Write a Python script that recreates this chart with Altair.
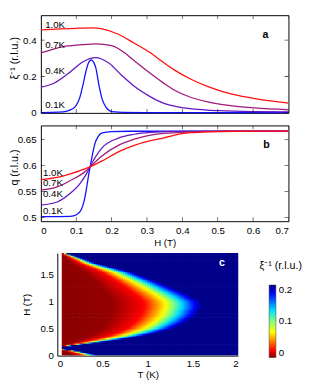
import altair as alt
import numpy as np
import pandas as pd

FONT = "Liberation Sans"

# ---------------- panel a : inverse correlation length vs H ----------------
TEMPS = ["0.1K", "0.4K", "0.7K", "1.0K"]
COLORS = ["#1010ff", "#6216c4", "#a01a78", "#ff1010"]

A_H_01 = [0, 0.05, 0.074, 0.085, 0.096, 0.103, 0.11, 0.119, 0.128, 0.136, 0.1435, 0.15, 0.155,
          0.164, 0.173, 0.18, 0.187, 0.195, 0.209, 0.23, 0.3, 0.5, 0.7]
A_V_01 = [0.002, 0.004, 0.01, 0.018, 0.032, 0.052, 0.084, 0.154, 0.233, 0.28, 0.291, 0.275, 0.25,
          0.154, 0.077, 0.045, 0.024, 0.011, 0.005, 0.003, 0.002, 0.001, 0.001]
A_H_04 = [0, 0.037, 0.083, 0.119, 0.155, 0.192, 0.228, 0.264, 0.31, 0.33, 0.35, 0.38, 0.423,
          0.47, 0.52, 0.6, 0.7]
A_V_04 = [0.142, 0.163, 0.225, 0.281, 0.304, 0.274, 0.207, 0.146, 0.088, 0.067, 0.051, 0.036, 0.023,
          0.015, 0.011, 0.007, 0.005]
A_H_07 = [0, 0.046, 0.065, 0.083, 0.12, 0.155, 0.2, 0.237, 0.264, 0.31, 0.346, 0.378, 0.423,
          0.469, 0.514, 0.605, 0.7]
A_V_07 = [0.33, 0.356, 0.366, 0.369, 0.375, 0.379, 0.37, 0.33, 0.286, 0.216, 0.165, 0.124, 0.086,
          0.062, 0.046, 0.027, 0.017]
A_H_10 = [0, 0.1, 0.146, 0.1735, 0.219, 0.264, 0.31, 0.332, 0.378, 0.423, 0.469, 0.514, 0.56,
          0.605, 0.65, 0.7]
A_V_10 = [0.456, 0.465, 0.467, 0.4615, 0.432, 0.383, 0.33, 0.298, 0.235, 0.186, 0.147, 0.117,
          0.095, 0.079, 0.066, 0.054]

# ---------------- panel b : ordering wave vector vs H ----------------
B_H_01 = [0, 0.083, 0.1008, 0.1144, 0.1235, 0.13, 0.1353, 0.14, 0.146, 0.153, 0.1617, 0.1735,
          0.2, 0.25, 0.7]
B_V_01 = [0.5013, 0.502, 0.505, 0.515, 0.535, 0.56, 0.583, 0.6, 0.622, 0.643, 0.656, 0.663,
          0.6655, 0.6663, 0.6667]
B_H_04 = [0, 0.046, 0.083, 0.11, 0.128, 0.146, 0.1735, 0.219, 0.264, 0.31, 0.4, 0.7]
B_V_04 = [0.5235, 0.5296, 0.5463, 0.5648, 0.583, 0.607, 0.6346, 0.653, 0.6605, 0.664, 0.6662, 0.6667]
B_H_07 = [0, 0.046, 0.083, 0.128, 0.14, 0.1735, 0.219, 0.264, 0.31, 0.346, 0.42, 0.5, 0.7]
B_V_07 = [0.5525, 0.5587, 0.571, 0.59, 0.598, 0.619, 0.639, 0.651, 0.659, 0.662, 0.665, 0.6662, 0.6667]
B_H_10 = [0, 0.046, 0.083, 0.14, 0.1735, 0.219, 0.264, 0.31, 0.346, 0.378, 0.423, 0.469, 0.55, 0.7]
B_V_10 = [0.5728, 0.577, 0.584, 0.598, 0.609, 0.6265, 0.639, 0.648, 0.653, 0.659, 0.6635, 0.665,
          0.6663, 0.6667]

# curve labels (H position, value)
A_LABEL_H = [0.012, 0.012, 0.012, 0.012]
A_LABEL_V = [0.045, 0.23, 0.371, 0.48]
B_LABEL_H = [0.006, 0.006, 0.006, 0.006]
B_LABEL_V = [0.5111, 0.5444, 0.5654, 0.586]

H_TICKS = [0, 0.1, 0.2, 0.3, 0.4, 0.5, 0.6, 0.7]
A_YTICKS = [0, 0.2, 0.4]
B_YTICKS = [0.5, 0.55, 0.6, 0.65]
A_YDOM = [0, 0.537]
B_YDOM = [0.4925, 0.6775]
H_DOM = [0, 0.7]

# ---------------- panel c : colour map of inverse correlation length ----------------
# outer edge (T where xi^-1 reaches ~0.2) of the coloured region, read per field H
C_EDGE_H = [0.0, 0.05, 0.09, 0.12, 0.14, 0.17, 0.20, 0.23, 0.29, 0.35, 0.42, 0.50, 0.62, 0.75,
            0.90, 1.00, 1.13, 1.34, 1.55, 1.70, 1.80, 1.92]
C_EDGE_T = [0.47, 0.33, 0.20, 0.06, 0.00, 0.07, 0.22, 0.38, 0.65, 0.90, 1.10, 1.28, 1.43, 1.54,
            1.60, 1.59, 1.45, 1.16, 0.82, 0.45, 0.28, 0.05]
# colour profile across the edge (fraction of edge temperature -> xi^-1)
C_PROF_FRAC = [0.0, 0.38, 0.6, 0.75, 0.86, 0.95, 1.0]
C_PROF_VAL = [0.0, 0.002, 0.02, 0.07, 0.13, 0.177, 0.2]
C_T_START, C_T_STOP, C_T_STEP = 0.05, 2.0, 0.025
C_H_STOP, C_H_STEP = 1.9, 0.025
C_XTICKS = [0, 0.5, 1, 1.5, 2]
C_YTICKS = [0, 0.5, 1, 1.5]
C_LEGEND_TICKS = [0, 0.1, 0.2]

JET_DOMAIN = [0, 0.02, 0.07, 0.1, 0.13, 0.177, 0.2]
JET_RANGE = ["#880000", "#ff0000", "#ffff00", "#80ff80", "#00e0ff", "#0000ff", "#00008a"]


def curves(hs, vs):
    rows = []
    for t, h_list, v_list in zip(TEMPS, hs, vs):
        for h, v in zip(h_list, v_list):
            rows.append({"T": t, "H": h, "v": v})
    return pd.DataFrame(rows)


df_a = curves([A_H_01, A_H_04, A_H_07, A_H_10], [A_V_01, A_V_04, A_V_07, A_V_10])
df_b = curves([B_H_01, B_H_04, B_H_07, B_H_10], [B_V_01, B_V_04, B_V_07, B_V_10])
lab_a = pd.DataFrame({"T": TEMPS, "H": A_LABEL_H, "v": A_LABEL_V})
lab_b = pd.DataFrame({"T": TEMPS, "H": B_LABEL_H, "v": B_LABEL_V})

color_scale = alt.Scale(domain=TEMPS, range=COLORS)

AXIS_STYLE = dict(domain=False, ticks=False, grid=False,
                  labelFont=FONT, labelFontSize=10, labelColor="#000",
                  titleFont=FONT, titleFontSize=10, titleFontWeight="normal", titleColor="#000")


def line_panel(df, lab, ydom, yticks, ytitle, xlabels, letter_pos, letter, height, title_y):
    xs = alt.Scale(domain=H_DOM, nice=False)
    ys = alt.Scale(domain=ydom, nice=False, zero=False)
    if xlabels:
        xaxis = alt.Axis(values=H_TICKS, format="~g", labelPadding=5, title="H (T)",
                         titleY=17, titleBaseline="top", **AXIS_STYLE)
    else:
        xaxis = None
    ystyle = dict(AXIS_STYLE)
    ystyle["titleFontSize"] = 11
    yaxis = alt.Axis(values=yticks, format="~g", labelPadding=5, title=ytitle, titleX=-22,
                     titleY=title_y, titleAngle=270, titleBaseline="bottom", titleAlign="center",
                     **ystyle)
    # every layer gets the identical axis so that they merge into one
    X = alt.X("H:Q", scale=xs, axis=xaxis)
    Y = alt.Y("v:Q", scale=ys, axis=yaxis)
    lines = alt.Chart(df).mark_line(strokeWidth=1.3, interpolate="monotone").encode(
        x=X, y=Y,
        color=alt.Color("T:N", scale=color_scale, legend=None),
        order=alt.Order("T:N"),
    )
    texts = alt.Chart(lab).mark_text(align="left", baseline="middle", font=FONT,
                                     fontSize=10, color="#000").encode(x=X, y=Y, text="T:N")
    let = alt.Chart(pd.DataFrame({"H": [letter_pos[0]], "v": [letter_pos[1]], "s": [letter]})).mark_text(
        align="center", baseline="middle", font=FONT, fontSize=11, fontWeight="bold", color="#000"
    ).encode(x=X, y=Y, text="s:N")
    # inward ticks on all four sides (the outer half of each tick is clipped away)
    xt = pd.DataFrame({"H": H_TICKS * 2,
                       "v": [ydom[0]] * len(H_TICKS) + [ydom[1]] * len(H_TICKS)})
    yt = pd.DataFrame({"v": list(yticks) * 2,
                       "H": [H_DOM[0]] * len(yticks) + [H_DOM[1]] * len(yticks)})
    x_ticks = alt.Chart(xt).mark_tick(orient="vertical", size=8, thickness=0.8, color="#000",
                                      clip=True).encode(x=X, y=Y)
    y_ticks = alt.Chart(yt).mark_tick(orient="horizontal", size=8, thickness=0.8, color="#000",
                                      clip=True).encode(x=X, y=Y)
    return alt.layer(lines, x_ticks, y_ticks, texts, let).properties(
        width=256, height=height, view=alt.ViewBackground(stroke="#000", strokeWidth=1))


panel_a = line_panel(df_a, lab_a, A_YDOM, A_YTICKS, "ξ⁻¹ (r.l.u.)", False,
                     (0.635, 0.426), "a", 101, 44)
panel_b = line_panel(df_b, lab_b, B_YDOM, B_YTICKS, "q (r.l.u.)", True,
                     (0.638, 0.639), "b", 99, 43)

# heat-map cells (each cell overlaps its right/upper neighbour a little to hide seams)
t_edges = np.arange(C_T_START, C_T_STOP + 1e-9, C_T_STEP)
h_edges = np.arange(0.0, C_H_STOP + 1e-9, C_H_STEP)
rows = []
for h0, h1 in zip(h_edges[:-1], h_edges[1:]):
    hc = 0.5 * (h0 + h1)
    te = float(np.interp(hc, C_EDGE_H, C_EDGE_T))
    for t0, t1 in zip(t_edges[:-1], t_edges[1:]):
        tc = 0.5 * (t0 + t1)
        frac = tc / te if te > 0 else 10.0
        v = float(np.interp(frac, C_PROF_FRAC, C_PROF_VAL))
        rows.append({"T0": round(t0, 4), "T1": round(t1 + 0.5 * C_T_STEP, 4),
                     "H0": round(h0, 4), "H1": round(h1 + 0.5 * C_H_STEP, 4), "v": round(v, 4)})
df_c = pd.DataFrame(rows)

cx = alt.Scale(domain=[0, 2], nice=False)
cy = alt.Scale(domain=[0, 1.9], nice=False)

C_AXIS = dict(AXIS_STYLE)
C_AXIS.update(domain=True, domainColor="#000", domainWidth=1)
CX_AXIS = alt.Axis(values=C_XTICKS, format="~g", title="T (K)", labelPadding=3,
                   titleY=15, titleBaseline="top", **C_AXIS)
CY_AXIS = alt.Axis(values=C_YTICKS, format="~g", title="H (T)", labelPadding=4,
                   titleX=-27, titleAngle=270, titleBaseline="bottom",
                   titleAlign="center", titleY=53, **C_AXIS)

heat = alt.Chart(df_c).mark_rect(strokeWidth=0, clip=True).encode(
    x=alt.X("T0:Q", scale=cx, axis=CX_AXIS),
    x2="T1:Q",
    y=alt.Y("H0:Q", scale=cy, axis=CY_AXIS),
    y2="H1:Q",
    color=alt.Color("v:Q", scale=alt.Scale(domain=JET_DOMAIN, range=JET_RANGE, interpolate="rgb"),
                    legend=alt.Legend(orient="none", legendX=226, legendY=7, direction="vertical",
                                      gradientLength=75, gradientThickness=7,
                                      gradientStrokeColor="#333", gradientStrokeWidth=0.5,
                                      values=C_LEGEND_TICKS, format="~g",
                                      title="ξ⁻¹ (r.l.u.)", titleAnchor="middle",
                                      titleFont=FONT, titleFontSize=11, titleFontWeight="normal",
                                      titleColor="#000", titlePadding=15, labelFont=FONT,
                                      labelFontSize=10, labelColor="#000", labelOffset=3)),
)
letter_c = alt.Chart(pd.DataFrame({"T": [1.82], "H": [1.71], "s": ["c"]})).mark_text(
    align="center", baseline="middle", font=FONT, fontSize=11, fontWeight="bold", color="#fff"
).encode(x=alt.X("T:Q", scale=cx, axis=CX_AXIS), y=alt.Y("H:Q", scale=cy, axis=CY_AXIS),
         text="s:N")

panel_c = alt.layer(heat, letter_c).properties(width=187, height=106)

spacer = alt.Chart(pd.DataFrame({"z": [0]})).mark_point(opacity=0).encode(
    x=alt.X("z:Q", axis=None), y=alt.Y("z:Q", axis=None)
).properties(width=1, height=106)

row_c = alt.hconcat(spacer, panel_c, spacing=16, bounds="flush")

chart = alt.vconcat(
    alt.vconcat(panel_a, panel_b, spacing=6),
    row_c,
    spacing=4,
).properties(padding=0).configure_view(stroke="transparent")

chart.save("out.html", embed_options={"renderer": "svg", "actions": False})
